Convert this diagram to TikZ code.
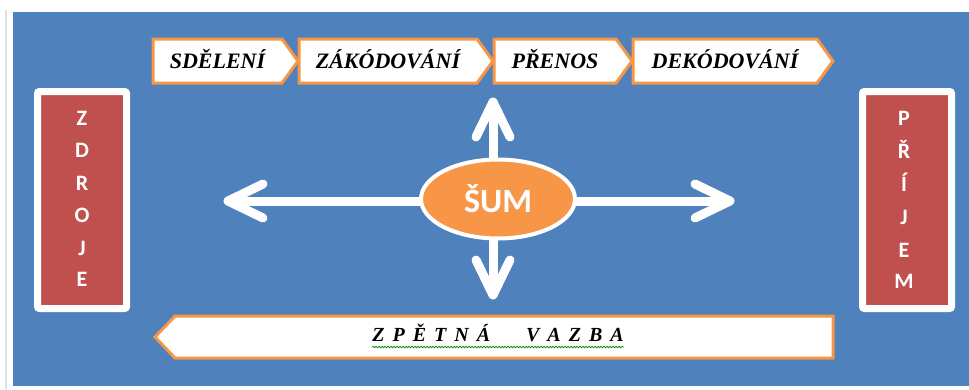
\documentclass[tikz,border=0pt]{standalone}
\usepackage{fontspec}
\setmainfont{Liberation Serif}
\newfontfamily\calib{Carlito}
\usetikzlibrary{shapes.geometric,calc,decorations.pathmorphing}
\definecolor{bgblue}{HTML}{4F81BD}
\definecolor{borange}{HTML}{F79646}
\definecolor{boxred}{HTML}{C0504D}
\newcommand\lsp{\hspace{8pt}}
\newcommand\chevbox[4]{%
  \draw[chev] (#2,39) -- (#3-16,39) -- (#3,61) -- (#3-16,83) -- (#2,83) -- cycle;
  \node[toptext] (#1) at ({(#2+#3-16)/2},68.5) {#4};}
\begin{document}
\begin{tikzpicture}[x=1pt,y=-1pt,
  chev/.style={draw=borange, fill=white, line width=3pt, line join=miter},
  toptext/.style={font=\fontsize{22}{24}\selectfont\bfseries\itshape, inner sep=0pt, anchor=base},
  bottext/.style={font=\fontsize{20}{22}\selectfont\bfseries\itshape, inner sep=0pt, anchor=base},
  shaft/.style={draw=white, line width=9pt},
  arrhead/.style={draw=white, line width=9pt, line cap=round, line join=round},
  redbox/.style={fill=boxred, draw=white, line width=7pt, rounded corners=2pt, minimum width=89pt, minimum height=217pt, inner sep=0pt},
  letters/.style={text=white, inner sep=0pt, font=\calib\bfseries\fontsize{22}{26}\selectfont, anchor=base}]
\useasboundingbox (0,0) rectangle (969,389);
\fill[white] (0,0) rectangle (969,389);
\draw[black!12, line width=2pt] (6,10) -- (6,389);
\fill[bgblue] (13,12) rectangle (969,386);

% top process chain
\chevbox{sd}{153}{298}{SDĚLENÍ}
\chevbox{za}{299}{493}{ZÁKÓDOVÁNÍ}
\chevbox{pr}{494}{632}{PŘENOS}
\chevbox{de}{633}{833}{DEKÓDOVÁNÍ}

% side boxes
\node[redbox] (zdroje) at (82,200) {};
\node[letters] (z1) at (82,125) {Z};
\node[letters] (z2) at (82,157) {D};
\node[letters] (z3) at (82,190) {R};
\node[letters] (z4) at (82,222) {O};
\node[letters] (z5) at (82,255) {J};
\node[letters] (z6) at (82,286) {E};
\node[redbox] (prijem) at (907,200) {};
\node[letters] (p1) at (904,125) {P};
\node[letters] (p2) at (904,158) {Ř};
\node[letters] (p3) at (904,191) {Í};
\node[letters] (p4) at (904,224) {J};
\node[letters] (p5) at (904,257) {E};
\node[letters] (p6) at (904,288) {M};

% arrows from noise
\coordinate (c) at (498,199);
\coordinate (ltip) at (228,201);
\coordinate (rtip) at (730,201);
\coordinate (utip) at (493,102);
\coordinate (dtip) at (493,295);
\draw[shaft] (c |- ltip) -- (ltip);
\draw[arrhead] ($(ltip)+(35,-17)$) -- (ltip) -- ($(ltip)+(35,17)$);
\draw[shaft] (c |- rtip) -- (rtip);
\draw[arrhead] ($(rtip)+(-35,-17)$) -- (rtip) -- ($(rtip)+(-35,17)$);
\draw[shaft] (c -| utip) -- (utip);
\draw[arrhead] ($(utip)+(-17,35)$) -- (utip) -- ($(utip)+(17,35)$);
\draw[shaft] (c -| dtip) -- (dtip);
\draw[arrhead] ($(dtip)+(-17,-35)$) -- (dtip) -- ($(dtip)+(17,-35)$);

\node[ellipse, fill=borange, draw=white, line width=4pt, minimum width=154pt, minimum height=79pt, inner sep=0pt, text=white, font=\calib\bfseries\fontsize{34}{40}\selectfont] (sum) at (c) {ŠUM};

% feedback bar
\draw[chev] (155,337) -- (175,316) -- (833,316) -- (833,358) -- (175,358) -- cycle;
\node[bottext] (zv) at (498,341) {Z\lsp P\lsp Ě\lsp T\lsp N\lsp Á\hspace{36pt}V\lsp A\lsp Z\lsp B\lsp A};
\draw[green!55!black, line width=0.8pt, decorate, decoration={snake, amplitude=0.7pt, segment length=3pt}] ($(zv.base west)+(0,6)$) -- ($(zv.base east)+(0,6)$);
\end{tikzpicture}
\end{document}
